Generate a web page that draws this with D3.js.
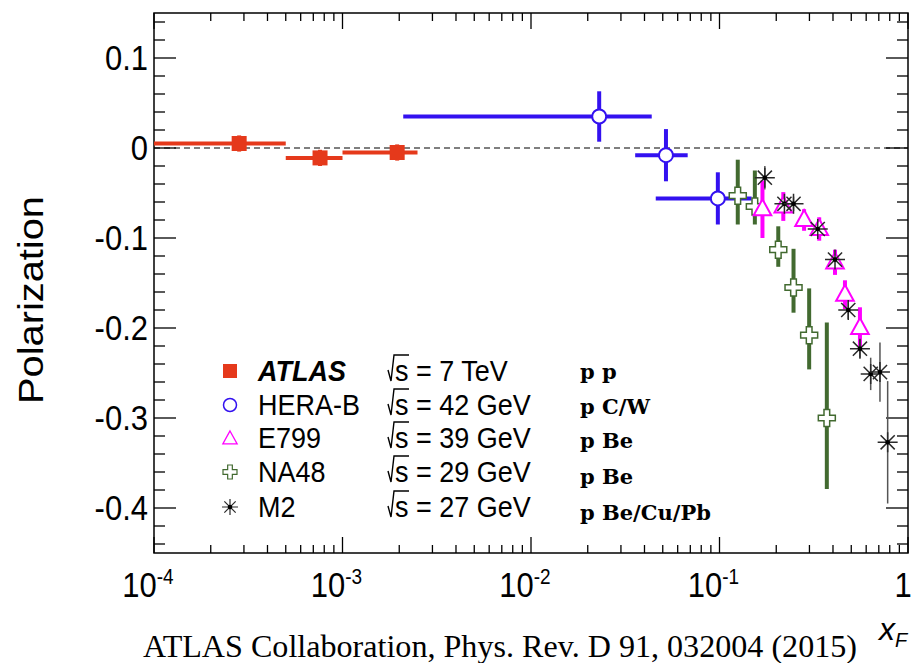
<!DOCTYPE html>
<html>
<head>
<meta charset="utf-8">
<script src="https://cdn.jsdelivr.net/npm/d3@7"></script>
<style>
  body { margin: 0; background: #fff; }
  svg { display: block; }
  text { font-family: "Liberation Sans", Arial, sans-serif; }
</style>
</head>
<body>
<div id="app"></div>
<script>
// ATLAS (bins in x, points)
const atlasX = [2.83e-4, 7.6e-4, 1.95e-3]
const atlasXLo = [1e-4, 5e-4, 1e-3]
const atlasXHi = [5e-4, 1e-3, 2.5e-3]
const atlasY = [0.005, -0.011, -0.005]
const atlasErr = [0.009, 0.009, 0.009]

// HERA-B
const heraX = [0.023, 0.052, 0.098]
const heraXLo = [0.0021, 0.0357, 0.0459]
const heraXHi = [0.0437, 0.0678, 0.148]
const heraY = [0.035, -0.008, -0.056]
const heraErr = [0.028, 0.029, 0.029]

// E799
const e799X = [0.169, 0.218, 0.281, 0.338, 0.41, 0.463, 0.556]
const e799Y = [-0.068, -0.065, -0.08, -0.09, -0.127, -0.163, -0.2]
const e799Err = [0.032, 0.016, 0.012, 0.013, 0.014, 0.016, 0.023]

// NA48 (asymmetric errors)
const na48X = [0.125, 0.154, 0.205, 0.247, 0.299, 0.371]
const na48Y = [-0.053, -0.065, -0.113, -0.155, -0.208, -0.300]
const na48ErrUp = [0.040, 0.040, 0.026, 0.043, 0.052, 0.106]
const na48ErrDn = [0.032, 0.020, 0.019, 0.028, 0.038, 0.079]

// M2
const m2X = [0.174, 0.221, 0.247, 0.332, 0.41, 0.482, 0.556, 0.634, 0.71, 0.78]
const m2Y = [-0.033, -0.062, -0.062, -0.09, -0.124, -0.18, -0.223, -0.251, -0.249, -0.327]
const m2Err = [0.013, 0.008, 0.008, 0.008, 0.01, 0.01, 0.01, 0.018, 0.033, 0.068]

const yTicks = [-0.4, -0.3, -0.2, -0.1, 0, 0.1]
const yTickLabels = ['-0.4', '-0.3', '-0.2', '-0.1', '0', '0.1']
const xTicks = [1e-4, 1e-3, 1e-2, 1e-1, 1]
const xTickLabels = [['10', '-4'], ['10', '-3'], ['10', '-2'], ['10', '-1'], ['1', '']]

const legendNames = ['ATLAS', 'HERA-B', 'E799', 'NA48', 'M2']
const legendEnergy = ['s = 7 TeV', 's = 42 GeV', 's = 39 GeV', 's = 29 GeV', 's = 27 GeV']
const legendBeam = ['p p', 'p C/W', 'p Be', 'p Be', 'p Be/Cu/Pb']

const RED = '#e5391b', BLUE = '#3311f0', MAG = '#ff00ff', GREEN = '#426a30', GRAY = '#2a2a2a'

let width = 913, height = 663
let mLeft = 154, mRight = 908, mTop = 13, mBottom = 553

let svg = d3.select('#app').append('svg')
  .attr('width', width).attr('height', height)

let x = d3.scaleLog().domain([1e-4, 1]).range([mLeft, mRight])
let y = d3.scaleLinear().domain([-0.45, 0.15]).range([mBottom, mTop])

// zero line
svg.append('line')
  .attr('x1', mLeft).attr('x2', mRight)
  .attr('y1', y(0)).attr('y2', y(0))
  .attr('stroke', '#555').attr('stroke-width', 1.3)
  .attr('stroke-dasharray', '6,4')

// frame + ticks
svg.append('rect')
  .attr('x', mLeft).attr('y', mTop)
  .attr('width', mRight - mLeft).attr('height', mBottom - mTop)
  .attr('fill', 'none').attr('stroke', '#000').attr('stroke-width', 1.5)

let yMinor = d3.range(-44, 15, 2).map(v => v / 100)
let tickG = svg.append('g').attr('stroke', '#000').attr('stroke-width', 1.3)
yMinor.forEach(v => {
  let len = yTicks.some(m => Math.abs(m - v) < 1e-9) ? 22 : 11
  tickG.append('line').attr('x1', mLeft).attr('x2', mLeft + len).attr('y1', y(v)).attr('y2', y(v))
  tickG.append('line').attr('x1', mRight).attr('x2', mRight - len).attr('y1', y(v)).attr('y2', y(v))
})
let xMinor = []
for (let e = -4; e < 0; e++) for (let k = 2; k <= 9; k++) xMinor.push(k * Math.pow(10, e))
xMinor.forEach(v => {
  tickG.append('line').attr('x1', x(v)).attr('x2', x(v)).attr('y1', mBottom).attr('y2', mBottom - 8)
  tickG.append('line').attr('x1', x(v)).attr('x2', x(v)).attr('y1', mTop).attr('y2', mTop + 8)
})
xTicks.forEach(v => {
  tickG.append('line').attr('x1', x(v)).attr('x2', x(v)).attr('y1', mBottom).attr('y2', mBottom - 16)
  tickG.append('line').attr('x1', x(v)).attr('x2', x(v)).attr('y1', mTop).attr('y2', mTop + 16)
})

// tick labels (slightly stretched vertically like the source)
svg.append('g').selectAll('text').data(yTicks).enter().append('text')
  .attr('transform', d => `translate(${mLeft - 6},${y(d) + 12}) scale(1,1.12)`)
  .attr('text-anchor', 'end').attr('font-size', 31)
  .text((d, i) => yTickLabels[i])

let xl = svg.append('g').selectAll('text').data(xTicks).enter().append('text')
  .attr('transform', (d, i) => `translate(${i === 4 ? x(d) - 5 : x(d) - 6},597) scale(1,1.12)`)
  .attr('text-anchor', 'middle').attr('font-size', 31)
xl.append('tspan').text((d, i) => xTickLabels[i][0])
xl.append('tspan').attr('dy', -12).attr('font-size', 19).text((d, i) => xTickLabels[i][1])

// axis titles
svg.append('text')
  .attr('transform', `translate(43, 300) rotate(-90)`)
  .attr('text-anchor', 'middle').attr('font-size', 35)
  .attr('textLength', 208).attr('lengthAdjust', 'spacingAndGlyphs')
  .text('Polarization')
let xf = svg.append('text').attr('x', 879).attr('y', 640).attr('font-size', 32).attr('font-style', 'italic')
xf.append('tspan').text('x')
xf.append('tspan').attr('dy', 7).attr('font-size', 20).text('F')

svg.append('text')
  .attr('x', 500).attr('y', 657).attr('text-anchor', 'middle')
  .style('font-family', '"Liberation Serif", "Times New Roman", serif')
  .attr('font-size', 31)
  .attr('textLength', 714).attr('lengthAdjust', 'spacingAndGlyphs')
  .text('ATLAS Collaboration, Phys. Rev. D 91, 032004 (2015)')

// error bars
const errLines = (xs, ys, lo, hi, xlo, xhi, color, w) => {
  let g = svg.append('g').attr('stroke', color).attr('stroke-width', w)
  xs.forEach((xv, i) => {
    g.append('line').attr('x1', x(xv)).attr('x2', x(xv))
      .attr('y1', y(ys[i] + hi[i])).attr('y2', y(ys[i] - lo[i]))
    if (xlo) g.append('line').attr('x1', x(xlo[i])).attr('x2', x(xhi[i]))
      .attr('y1', y(ys[i])).attr('y2', y(ys[i]))
  })
}

errLines(atlasX, atlasY, atlasErr, atlasErr, atlasXLo, atlasXHi, RED, 4)
errLines(heraX, heraY, heraErr, heraErr, heraXLo, heraXHi, BLUE, 4)
errLines(na48X, na48Y, na48ErrDn, na48ErrUp, null, null, GREEN, 4)
errLines(e799X, e799Y, e799Err, e799Err, null, null, MAG, 4)
errLines(m2X, m2Y, m2Err, m2Err, null, null, '#555', 1.5)

// marker shapes
const crossPath = s => {
  let a = s / 2, b = s / 6
  return `M${-b},${-a}H${b}V${-b}H${a}V${b}H${b}V${a}H${-b}V${b}H${-a}V${-b}H${-b}Z`
}
const triPath = s => `M0,${-s * 0.62}L${s * 0.55},${s * 0.38}L${-s * 0.55},${s * 0.38}Z`
const starPath = r => {
  let p = ''
  for (let k = 0; k < 4; k++) {
    let a = k * Math.PI / 4
    p += `M${-r * Math.cos(a)},${-r * Math.sin(a)}L${r * Math.cos(a)},${r * Math.sin(a)}`
  }
  return p
}

const drawAtlas = (g, s) => g.append('rect').attr('x', -s / 2).attr('y', -s / 2)
  .attr('width', s).attr('height', s).attr('fill', RED)
const drawHera = (g, r, w) => g.append('circle').attr('r', r).attr('fill', '#fff')
  .attr('stroke', BLUE).attr('stroke-width', w)
const drawE799 = (g, s, w) => g.append('path').attr('d', triPath(s)).attr('fill', '#fff')
  .attr('stroke', MAG).attr('stroke-width', w)
const drawNA48 = (g, s, w) => g.append('path').attr('d', crossPath(s)).attr('fill', '#fff')
  .attr('stroke', GREEN).attr('stroke-width', w)
const drawM2 = (g, r, w) => {
  g.append('path').attr('d', starPath(r)).attr('stroke', GRAY).attr('stroke-width', w)
  g.append('circle').attr('r', 2.3).attr('fill', '#000')
}

const place = (xs, ys, fn) => xs.forEach((xv, i) => {
  fn(svg.append('g').attr('transform', `translate(${x(xv)},${y(ys[i])})`))
})

place(na48X, na48Y, g => drawNA48(g, 17, 1.5))
place(e799X, e799Y, g => drawE799(g, 16, 2))
place(heraX, heraY, g => drawHera(g, 7, 2))
place(atlasX, atlasY, g => drawAtlas(g, 15))
place(m2X, m2Y, g => drawM2(g, 10, 1.5))

// legend
let rowY = [371, 405, 438, 472, 507]
let legMarkX = 230
let lg = svg.append('g')
drawAtlas(lg.append('g').attr('transform', `translate(${legMarkX},${rowY[0]})`), 14)
drawHera(lg.append('g').attr('transform', `translate(${legMarkX},${rowY[1]})`), 6.5, 1.5)
drawE799(lg.append('g').attr('transform', `translate(${legMarkX},${rowY[2] + 1})`), 13, 1.3)
drawNA48(lg.append('g').attr('transform', `translate(${legMarkX},${rowY[3]})`), 14, 1.2)
drawM2(lg.append('g').attr('transform', `translate(${legMarkX},${rowY[4]})`), 8, 1.2)

legendNames.forEach((n, i) => {
  let by = rowY[i] + 10
  lg.append('text').attr('transform', `translate(258,${by}) scale(1,1.12)`)
    .attr('font-size', 27)
    .attr('font-weight', i === 0 ? 'bold' : 'normal')
    .attr('font-style', i === 0 ? 'italic' : 'normal')
    .text(n)
  let sx = 388
  lg.append('path')
    .attr('d', `M${sx},${by - 11}L${sx + 3},${by}L${sx + 6},${by - 26}H${sx + 21}`)
    .attr('fill', 'none').attr('stroke', '#000').attr('stroke-width', 1.4)
  lg.append('text').attr('transform', `translate(${sx + 7},${by}) scale(1,1.12)`)
    .attr('font-size', 27)
    .text(legendEnergy[i])
  lg.append('text').attr('x', 580).attr('y', rowY[i] + 8 + i * 1.2)
    .style('font-family', '"DejaVu Serif", "Liberation Serif", serif')
    .attr('font-weight', 'bold').attr('font-size', 21)
    .text(legendBeam[i])
})
</script>
</body>
</html>
